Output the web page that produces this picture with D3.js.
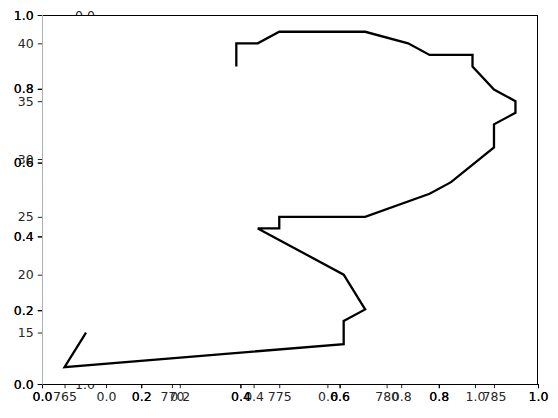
<!DOCTYPE html>
<html>
<head>
<meta charset="utf-8">
<script src="https://cdn.jsdelivr.net/npm/d3@7"></script>
<style>
  html, body { margin: 0; padding: 0; background: #fff; }
  svg { display: block; }
  text { font-family: "DejaVu Sans", sans-serif; }
</style>
</head>
<body>
<svg id="chart" width="558" height="418"></svg>
<script>
// ---- data ----
const lon = [766, 765, 778, 778, 779, 778, 774, 775, 775, 779, 782, 783, 785, 785, 786, 786, 785, 784, 784, 782, 781, 779, 775, 774, 773, 773];
const lat = [15, 12, 14, 16, 17, 20, 24, 24, 25, 25, 27, 28, 31, 33, 34, 35, 36, 38, 39, 39, 40, 41, 41, 40, 40, 38];
const dataXTicks = [765, 770, 775, 780, 785];
const dataYTicks = [15, 20, 25, 30, 35, 40];
const unitTicks = [0, 0.2, 0.4, 0.6, 0.8, 1.0];
const fmtUnit = d3.format(".1f");

// ---- layout ----
const W = 558, H = 418;
const L = 42, R = 538, T = 15, B = 384;
const insetL = 106, insetR = 475;
const fontSize = 12.5, tick = 4.2, pad = 4.2;
const grey = "#262626";

const svg = d3.select("#chart");

function styleAxis(g, color) {
  g.select(".domain").remove();
  g.selectAll("line").attr("stroke", color).attr("stroke-width", 1);
  g.selectAll("text").attr("fill", color).attr("font-size", fontSize)
    .attr("font-family", "DejaVu Sans, sans-serif");
}

// ---- layer 1: inset unit axes (mostly hidden behind main patch) ----
const ixScale = d3.scaleLinear().domain([0, 1]).range([insetL, insetR]);
const iyScale = d3.scaleLinear().domain([0, 1]).range([T, B]); // inverted
svg.append("g").attr("transform", `translate(0,${B})`)
  .call(d3.axisBottom(ixScale).tickValues(unitTicks).tickFormat(fmtUnit).tickSize(tick).tickPadding(pad))
  .call(g => styleAxis(g, grey));
svg.append("g").attr("transform", `translate(${insetL - 11},0)`)
  .call(d3.axisLeft(iyScale).tickValues(unitTicks).tickFormat(fmtUnit).tickSize(0).tickPadding(0))
  .call(g => styleAxis(g, grey));

// ---- layer 2: main unit axes with white patch ----
const uxScale = d3.scaleLinear().domain([0, 1]).range([L, R]);
const uyScale = d3.scaleLinear().domain([0, 1]).range([B, T]);
svg.append("rect").attr("x", L).attr("y", T).attr("width", R - L).attr("height", B - T).attr("fill", "#fff");
for (let k = 0; k < 2; k++) {
  svg.append("g").attr("transform", `translate(0,${B})`)
    .call(d3.axisBottom(uxScale).tickValues(unitTicks).tickFormat(fmtUnit).tickSize(tick).tickPadding(pad))
    .call(g => styleAxis(g, "#000"));
  svg.append("g").attr("transform", `translate(${L},0)`)
    .call(d3.axisLeft(uyScale).tickValues(unitTicks).tickFormat(fmtUnit).tickSize(tick).tickPadding(pad))
    .call(g => styleAxis(g, "#000"));
}

// ---- layer 3: data axes ----
const [x0, x1] = d3.extent(lon), [y0, y1] = d3.extent(lat);
const mx = (x1 - x0) * 0.05, my = (y1 - y0) * 0.05;
const xScale = d3.scaleLinear().domain([x0 - mx, x1 + mx]).range([L, R]);
const yScale = d3.scaleLinear().domain([y0 - my, y1 + my]).range([B, T]);

svg.append("g").attr("transform", `translate(0,${B})`)
  .call(d3.axisBottom(xScale).tickValues(dataXTicks).tickFormat(d3.format("d")).tickSize(tick).tickPadding(pad))
  .call(g => styleAxis(g, grey));
svg.append("g").attr("transform", `translate(${L},0)`)
  .call(d3.axisLeft(yScale).tickValues(dataYTicks).tickFormat(d3.format("d")).tickSize(tick).tickPadding(pad))
  .call(g => styleAxis(g, grey));

// spines
svg.append("line").attr("x1", L).attr("x2", R).attr("y1", T + 0.5).attr("y2", T + 0.5).attr("stroke", "#000");
svg.append("line").attr("x1", R - 0.5).attr("x2", R - 0.5).attr("y1", T).attr("y2", B + 0.5).attr("stroke", "#000");
svg.append("line").attr("x1", L).attr("x2", R).attr("y1", B + 0.5).attr("y2", B + 0.5).attr("stroke", "#000");
svg.append("line").attr("x1", L + 0.5).attr("x2", L + 0.5).attr("y1", T).attr("y2", B + 0.5).attr("stroke", "#b0b0b0");

// the line
const pts = lon.map((d, i) => [d, lat[i]]);
svg.append("path")
  .datum(pts)
  .attr("fill", "none")
  .attr("stroke", "#000")
  .attr("stroke-width", 2.3)
  .attr("stroke-linejoin", "miter")
  .attr("d", d3.line().x(d => xScale(d[0])).y(d => yScale(d[1])));
</script>
</body>
</html>
